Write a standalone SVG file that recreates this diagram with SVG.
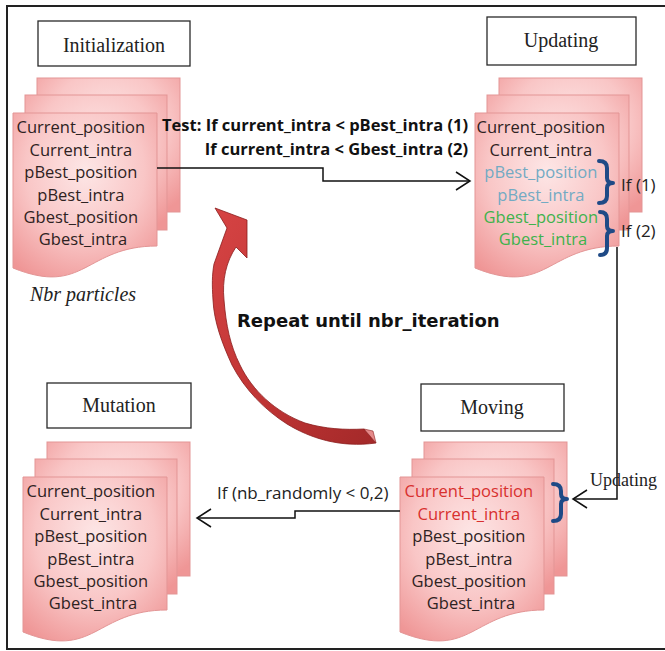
<svg xmlns="http://www.w3.org/2000/svg" width="665" height="651" viewBox="0 0 665 651">
<defs>
  <radialGradient id="sheet" cx="50%" cy="35%" r="75%">
    <stop offset="0%" stop-color="#fde6e6"/>
    <stop offset="55%" stop-color="#f9c6c6"/>
    <stop offset="100%" stop-color="#ef9696"/>
  </radialGradient>
  <linearGradient id="redarrow" x1="0" y1="0" x2="1" y2="1">
    <stop offset="0%" stop-color="#d64444"/>
    <stop offset="60%" stop-color="#bd3333"/>
    <stop offset="100%" stop-color="#a32929"/>
  </linearGradient>
  <marker id="open" markerUnits="userSpaceOnUse" markerWidth="18" markerHeight="22" refX="15" refY="10" orient="auto">
    <path d="M1,1 L15,10 L1,19" fill="none" stroke="#111" stroke-width="1.5"/>
  </marker>
  <g id="stack">
    <rect x="24" y="-35" width="143" height="134" class="sh"/>
    <rect x="12" y="-18" width="142" height="135" class="sh"/>
    <path d="M0,0 H144 V133 C72,133 72,184 0,155 Z" class="sh"/>
  </g>
</defs>
<style>
  .sh { fill: url(#sheet); stroke: #e39595; stroke-width: 1; }
  .lbl { fill: #fff; stroke: #2a2a2a; stroke-width: 1.3; }
  .lt { font-family: "Liberation Serif", serif; font-size: 20px; fill: #222; text-anchor: middle; }
  .tx { font-family: "Open Sans", "Liberation Sans", sans-serif; font-size: 16.5px; fill: #2e2222; text-anchor: middle; }
  .red { fill: #d8302e; }
  .blue { fill: #73aac3; }
  .green { fill: #3fb24c; }
  .cond { font-family: "Open Sans", "Liberation Sans", sans-serif; font-size: 16.5px; font-weight: bold; fill: #111; text-anchor: end; }
  .sm { font-family: "Open Sans", "Liberation Sans", sans-serif; font-size: 17px; fill: #222; }
  .conn { fill: none; stroke: #111; stroke-width: 1.5; }
  .brace { fill: none; stroke: #1f4a86; stroke-width: 4; stroke-linejoin: round; stroke-linecap: round; }
</style>

<rect x="7" y="6" width="670" height="643" fill="none" stroke="#222" stroke-width="2"/>

<g id="init">
  <rect x="38" y="21" width="152" height="45" class="lbl"/>
  <text x="114" y="52" class="lt">Initialization</text>
  <use href="#stack" x="13" y="113"/>
  <text class="tx">
    <tspan x="83" y="133">Current_position</tspan>
    <tspan x="83" y="155.5">Current_intra</tspan>
    <tspan x="83" y="178">pBest_position</tspan>
    <tspan x="83" y="200.5">pBest_intra</tspan>
    <tspan x="83" y="223">Gbest_position</tspan>
    <tspan x="83" y="244.5">Gbest_intra</tspan>
  </text>
  <text x="83" y="301" class="lt" font-style="italic">Nbr particles</text>
</g>

<g id="updating">
  <rect x="487" y="17" width="149" height="48" class="lbl"/>
  <text x="561" y="47" class="lt">Updating</text>
  <use href="#stack" x="475" y="113"/>
  <text class="tx">
    <tspan x="543" y="133">Current_position</tspan>
    <tspan x="543" y="155.5">Current_intra</tspan>
    <tspan x="543" y="178" class="blue">pBest_position</tspan>
    <tspan x="543" y="200.5" class="blue">pBest_intra</tspan>
    <tspan x="543" y="223" class="green">Gbest_position</tspan>
    <tspan x="543" y="244.5" class="green">Gbest_intra</tspan>
  </text>
  <path class="brace" d="M599,161 Q607,161 607,168 V178 Q607,183 613,183 Q607,183 607,188 V196 Q607,203 599,203"/>
  <path class="brace" d="M600,212 Q607,212 607,219 V226 Q607,231 613,231 Q607,231 607,236 V248 Q607,255 600,255"/>
  <text x="621" y="191" class="sm">If (1)</text>
  <text x="621" y="237" class="sm">If (2)</text>
</g>

<g id="moving">
  <rect x="421" y="384" width="143" height="47" class="lbl"/>
  <text x="492" y="414" class="lt">Moving</text>
  <use href="#stack" x="400" y="477"/>
  <text class="tx">
    <tspan x="471" y="497" class="red">Current_position</tspan>
    <tspan x="471" y="519.5" class="red">Current_intra</tspan>
    <tspan x="471" y="542">pBest_position</tspan>
    <tspan x="471" y="564.5">pBest_intra</tspan>
    <tspan x="471" y="587">Gbest_position</tspan>
    <tspan x="471" y="608.5">Gbest_intra</tspan>
  </text>
  <path class="brace" d="M553,484 Q561,484 561,491 V494 Q561,499 567,499 Q561,499 561,504 V514 Q561,521 553,521"/>
</g>

<g id="mutation">
  <rect x="47" y="383" width="144" height="45" class="lbl"/>
  <text x="119" y="412" class="lt">Mutation</text>
  <use href="#stack" x="23" y="477"/>
  <text class="tx">
    <tspan x="93" y="497">Current_position</tspan>
    <tspan x="93" y="519.5">Current_intra</tspan>
    <tspan x="93" y="542">pBest_position</tspan>
    <tspan x="93" y="564.5">pBest_intra</tspan>
    <tspan x="93" y="587">Gbest_position</tspan>
    <tspan x="93" y="608.5">Gbest_intra</tspan>
  </text>
</g>

<g id="repeat">
  <path d="M376,443 C340,448 310,438 287,424 C265,410 245,390 232,365 C222,343 214,322 213,300 C212,285 212,275 214,264 L227,228 L215,208 L247,220 L247,258 L236,247 C226,262 222,280 224,300 C226,325 230,345 240,365 C252,390 275,412 305,423 C325,429 345,430 364,429 Z" fill="url(#redarrow)" stroke="#8a1c1c" stroke-width="0.8"/>
  <path d="M364,429 L376,443 L373,431 Z" fill="#e58a8a" stroke="#8a1c1c" stroke-width="0.6"/>
  <text x="237" y="327" font-family="'DejaVu Sans', sans-serif" font-size="18" font-weight="bold" fill="#111">Repeat until nbr_iteration</text>
</g>

<g id="connectors">
  <polyline class="conn" points="157,168 323,168 323,181 470,181" marker-end="url(#open)"/>
  <polyline class="conn" points="617,247 617,499 573,499" marker-end="url(#open)"/>
  <polyline class="conn" points="400,511 295,511 295,518 197,518" marker-end="url(#open)"/>
  <text x="468" y="131" class="cond">Test: If current_intra &lt; pBest_intra (1)</text>
  <text x="468" y="155" class="cond">If current_intra &lt; Gbest_intra (2)</text>
  <text x="590" y="486" font-family="'Liberation Serif', serif" font-size="18" fill="#222">Updating</text>
  <text x="217" y="499" class="sm">If (nb_randomly &lt; 0,2)</text>
</g>
</svg>
